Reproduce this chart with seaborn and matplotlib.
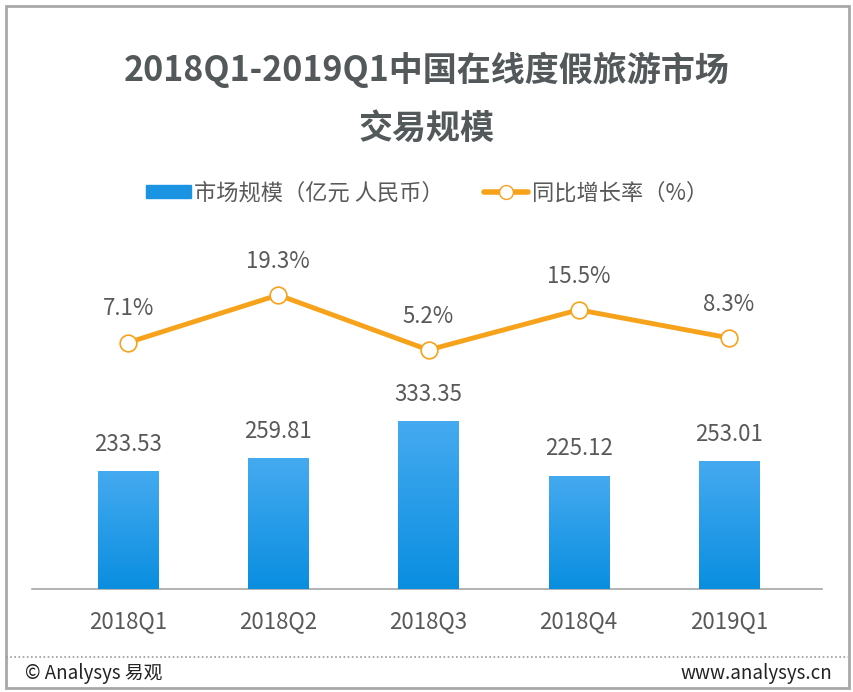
import numpy as np
import matplotlib
matplotlib.use('Agg')
import matplotlib.pyplot as plt
import seaborn as sns
from matplotlib.patches import Rectangle
from matplotlib.lines import Line2D
from matplotlib.colors import LinearSegmentedColormap

quarters = ['2018Q1', '2018Q2', '2018Q3', '2018Q4', '2019Q1']
market_size = [233.53, 259.81, 333.35, 225.12, 253.01]
growth = [7.1, 19.3, 5.2, 15.5, 8.3]
size_labels = ['233.53', '259.81', '333.35', '225.12', '253.01']
growth_labels = ['7.1%', '19.3%', '5.2%', '15.5%', '8.3%']

title = '2018Q1-2019Q1中国在线度假旅游市场\n交易规模'
legend_bar = '市场规模（亿元 人民币）'
legend_line = '同比增长率（%）'

sns.set_theme(style='white')
plt.rcParams['font.family'] = ['Noto Sans CJK SC', 'DejaVu Sans']

gray_text = '#595959'
orange = '#f7a21b'
blue = '#1a93e3'

fig = plt.figure(figsize=(8.54, 6.92), dpi=100)
ax = fig.add_axes([32 / 854, 1 - 589 / 692, 790 / 854, 349 / 692])

sns.barplot(x=quarters, y=market_size, ax=ax, color=blue, width=0.4,
            saturation=1, zorder=2)

# gradient fill for bars
cmap = LinearSegmentedColormap.from_list('g', ['#0a8ee0', '#45aaf0'])
grad = np.linspace(0, 1, 256).reshape(-1, 1)
for p in ax.patches:
    x0, y0 = p.get_x(), p.get_y()
    w, h = p.get_width(), p.get_height()
    im = ax.imshow(grad, cmap=cmap, origin='lower', aspect='auto',
                   extent=[x0, x0 + w, y0, y0 + h], zorder=3)
    im.set_clip_path(p)
    p.set_alpha(0)
ax.set_xlim(-0.64, 4.62)
ax.set_ylim(0, 692.5)

for i, (v, lab) in enumerate(zip(market_size, size_labels)):
    ax.annotate(lab, (i, v), xytext=(0, 11), textcoords='offset points',
                ha='center', va='bottom', fontsize=16, color=gray_text)

ax2 = ax.twinx()
sns.lineplot(x=np.arange(len(quarters)), y=growth, ax=ax2, color=orange,
             linewidth=3.5, marker='o', markersize=12,
             markerfacecolor='white', markeredgecolor=orange,
             markeredgewidth=1.2, zorder=5)
ax2.set_ylim(-56.1, 33.4)
for i, (v, lab) in enumerate(zip(growth, growth_labels)):
    ax2.annotate(lab, (i, v), xytext=(0, 16), textcoords='offset points',
                 ha='center', va='bottom', fontsize=16, color=gray_text)

for a in (ax, ax2):
    a.set_yticks([])
    a.set_ylabel('')
    for s in ['top', 'right', 'left', 'bottom']:
        a.spines[s].set_visible(False)
ax.spines['bottom'].set_visible(True)
ax.spines['bottom'].set_color('#a6a6a6')
ax.spines['bottom'].set_linewidth(1.2)
ax.tick_params(axis='x', length=0, pad=15, labelsize=16, labelcolor=gray_text)
ax.set_xlabel('')

fig.text(0.5, 1 - 99 / 692, title, ha='center', va='center', fontsize=24.5,
         fontweight='bold', color='#53585a', linespacing=1.8)

handles = [Rectangle((0, 0), 1, 1, color=blue),
           Line2D([], [], color=orange, linewidth=4, marker='o',
                  markersize=10, markerfacecolor='white',
                  markeredgecolor=orange)]
fig.legend(handles, [legend_bar, legend_line], loc='center',
           bbox_to_anchor=(0.5, 1 - 193 / 692), ncol=2, frameon=False,
           fontsize=16, handlelength=2.0, handleheight=0.5,
           columnspacing=1.8, handletextpad=0.15, labelcolor=gray_text)

# footer and border
fig.add_artist(Line2D([6 / 854, 848 / 854], [1 - 657 / 692] * 2,
                      color='#9a9a9a', linewidth=1.2, linestyle=(0, (1, 1.5))))
fig.text(25 / 854, 1 - 673 / 692, '© Analysys 易观', ha='left', va='center',
         fontsize=13.5, color='#222222')
fig.text(832 / 854, 1 - 673 / 692, 'www.analysys.cn', ha='right', va='center',
         fontsize=13.5, color='#222222')
fig.add_artist(Rectangle((6 / 854, 4 / 692), 843 / 854, 682 / 692,
                         fill=False, edgecolor='#a8a8a8', linewidth=2))

fig.savefig('out.png', dpi=100)
